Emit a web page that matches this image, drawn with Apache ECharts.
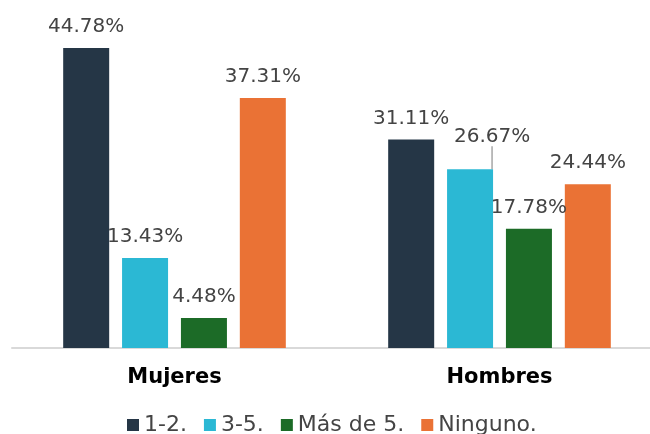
<!DOCTYPE html>
<html>
<head>
<meta charset="utf-8">
<script src="https://cdn.jsdelivr.net/npm/echarts@6/dist/echarts.min.js"></script>
<style>
  html, body { margin: 0; padding: 0; background: #fff; }
  #chart { width: 650px; height: 434px; }
</style>
</head>
<body>
<div id="chart"></div>
<script>
const categories = ['Mujeres', 'Hombres'];
const seriesNames = ['1-2.', '3-5.', 'Más de 5.', 'Ninguno.'];
const unoDos = [44.78, 31.11];
const tresCinco = [13.43, 26.67];
const masDeCinco = [4.48, 17.78];
const ninguno = [37.31, 24.44];
const colors = ['#253646', '#2bb8d4', '#1c6b27', '#ea7235'];

const chart = echarts.init(document.getElementById('chart'));

const font = 'DejaVu Sans';

function makeSeries(name, data, color, extra) {
  return Object.assign({
    name,
    type: 'bar',
    data,
    barWidth: 46,
    barGap: '28%',
    itemStyle: { color },
    label: {
      show: true,
      position: 'top',
      distance: 11,
      formatter: p => p.value.toFixed(2) + '%',
      fontFamily: font,
      fontSize: 20,
      color: '#444'
    }
  }, extra || {});
}

// the 26.67% label is pushed up-right with a leader line
const tresCincoData = tresCinco.map((v, i) => i === 1
  ? { value: v, labelLine: { show: true, lineStyle: { color: '#a6a6a6', width: 1.5 } } }
  : v);

const option = {
  animation: false,
  textStyle: { fontFamily: font },
  grid: { left: 12, right: -12, top: 13, bottom: 86, outerBoundsMode: 'none' },
  legend: {
    left: 122,
    bottom: -7,
    icon: 'rect',
    itemWidth: 12,
    itemHeight: 12,
    itemGap: 17,
    textStyle: { fontSize: 22, color: '#444', fontFamily: font },
    data: seriesNames
  },
  xAxis: {
    type: 'category',
    data: categories,
    axisTick: { show: false },
    axisLine: { lineStyle: { color: '#d9d9d9', width: 2 } },
    axisLabel: { fontSize: 21, fontWeight: 'bold', color: '#000', margin: 19, fontFamily: font }
  },
  yAxis: {
    type: 'value',
    min: 0,
    max: 50,
    show: false
  },
  series: [
    makeSeries(seriesNames[0], unoDos, colors[0]),
    makeSeries(seriesNames[1], tresCincoData, colors[1], {
      labelLayout: p => p.dataIndex === 1 ? { dx: 22, dy: -12 } : {}
    }),
    makeSeries(seriesNames[2], masDeCinco, colors[2]),
    makeSeries(seriesNames[3], ninguno, colors[3])
  ]
};

chart.setOption(option);
</script>
</body>
</html>
